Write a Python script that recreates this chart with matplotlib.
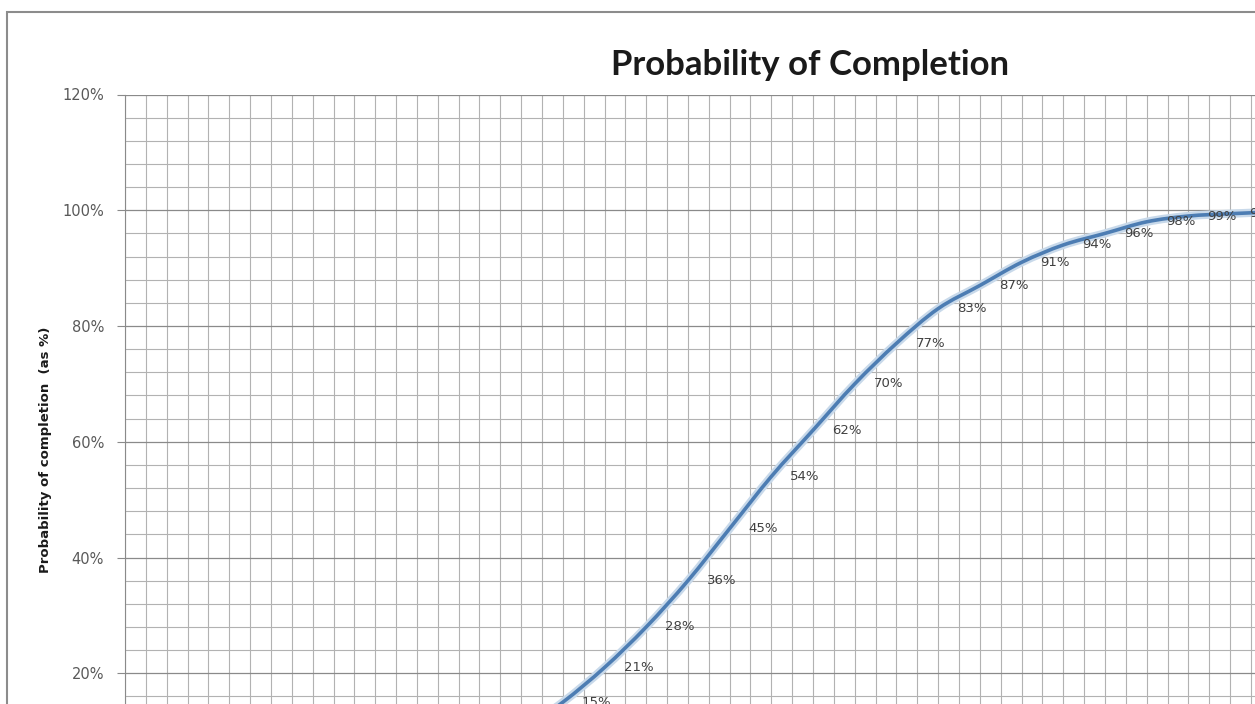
"""Probability of Completion - cropped Excel-style line chart."""

import matplotlib
matplotlib.use("Agg")
import matplotlib.pyplot as plt
import matplotlib.patches as patches
from matplotlib.path import Path
from matplotlib.ticker import MultipleLocator, FuncFormatter

# category index along the x axis (earlier/later categories fall outside the crop)
cat_idx = [9, 10, 11, 12, 13, 14, 15, 16, 17, 18, 19, 20, 21, 22, 23, 24, 25, 26, 27]
completion = [10, 15, 21, 28, 36, 45, 54, 62, 70, 77, 83, 87, 91, 94, 96, 98, 99, 99.4, 99.7]
n_categories = 28
y_ticks = [0, 20, 40, 60, 80, 100, 120]

W, H = 1255, 704
fig = plt.figure(figsize=(W / 100, H / 100), dpi=100)
fig.patch.set_facecolor("white")

# plot area: 120% at y=94.5px, 0% at y=789px (below the crop), left edge x=125px
left, top_px, zero_px, right_px = 125, 94.5, 789, 125 + n_categories * 41.7
ax = fig.add_axes([left / W, (H - zero_px) / H,
                   (right_px - left) / W, (zero_px - top_px) / H])

ax.set_xlim(0, n_categories)
ax.set_ylim(0, 120)

# grid
ax.xaxis.set_major_locator(MultipleLocator(0.5))
ax.yaxis.set_major_locator(MultipleLocator(20))
ax.yaxis.set_minor_locator(MultipleLocator(4))
ax.grid(which="major", axis="x", color="#b2b2b2", lw=0.8)
ax.grid(which="minor", axis="y", color="#b2b2b2", lw=0.8)
ax.grid(which="major", axis="y", color="#8a8a8a", lw=0.9)
ax.set_axisbelow(True)

ax.tick_params(axis="x", bottom=False, labelbottom=False)
ax.tick_params(axis="y", which="major", length=6, color="#8a8a8a",
               labelsize=10.5, labelcolor="#595959", pad=9)
ax.tick_params(axis="y", which="minor", length=0)
ax.set_yticks(y_ticks)
ax.yaxis.set_major_formatter(FuncFormatter(lambda v, _: f"{v:.0f}%"))

for side in ("top", "right", "bottom"):
    ax.spines[side].set_visible(False)
ax.spines["left"].set_color("#8a8a8a")

xs = [c + 0.5 for c in cat_idx]


def smooth_path(px, py, k=1 / 6):
    # Excel-style smoothed line: cubic Bezier segments through the points
    verts = [(px[0], py[0])]
    codes = [Path.MOVETO]
    n = len(px)
    for i in range(n - 1):
        p0 = (px[max(i - 1, 0)], py[max(i - 1, 0)])
        p1 = (px[i], py[i])
        p2 = (px[i + 1], py[i + 1])
        p3 = (px[min(i + 2, n - 1)], py[min(i + 2, n - 1)])
        c1 = (p1[0] + (p2[0] - p0[0]) * k, p1[1] + (p2[1] - p0[1]) * k)
        c2 = (p2[0] - (p3[0] - p1[0]) * k, p2[1] - (p3[1] - p1[1]) * k)
        verts += [c1, c2, p2]
        codes += [Path.CURVE4] * 3
    return Path(verts, codes)


curve = smooth_path(xs, completion)
ax.add_patch(patches.PathPatch(curve, fill=False, edgecolor="#c8d9ea", lw=6,
                               capstyle="round", zorder=3))
ax.add_patch(patches.PathPatch(curve, fill=False, edgecolor="#4d7db3", lw=2.6,
                               capstyle="round", zorder=4))

for x, v in zip(xs, completion):
    ax.annotate(f"{v:.0f}%", (x, v), xytext=(19, 0), textcoords="offset pixels",
                ha="left", va="center", fontsize=9.5, color="#404040",
                annotation_clip=False, zorder=5)

fig.text(810 / W, 1 - 65 / H, "Probability of Completion", ha="center", va="center",
         fontsize=25, fontweight="bold", family="Lato", color="#1a1a1a")
fig.text(45 / W, 1 - 450 / H, "Probability of completion  (as %)", rotation=90,
         ha="center", va="center", fontsize=9.5, fontweight="bold", color="#1a1a1a")

# chart border (the rest is cropped away)
fig.patches.append(patches.Rectangle((7 / W, -0.5), 2, 1.5 - 12 / H,
                                     transform=fig.transFigure, fill=False,
                                     edgecolor="#8c8c8c", lw=1.5))

fig.savefig("out.png", dpi=100)
